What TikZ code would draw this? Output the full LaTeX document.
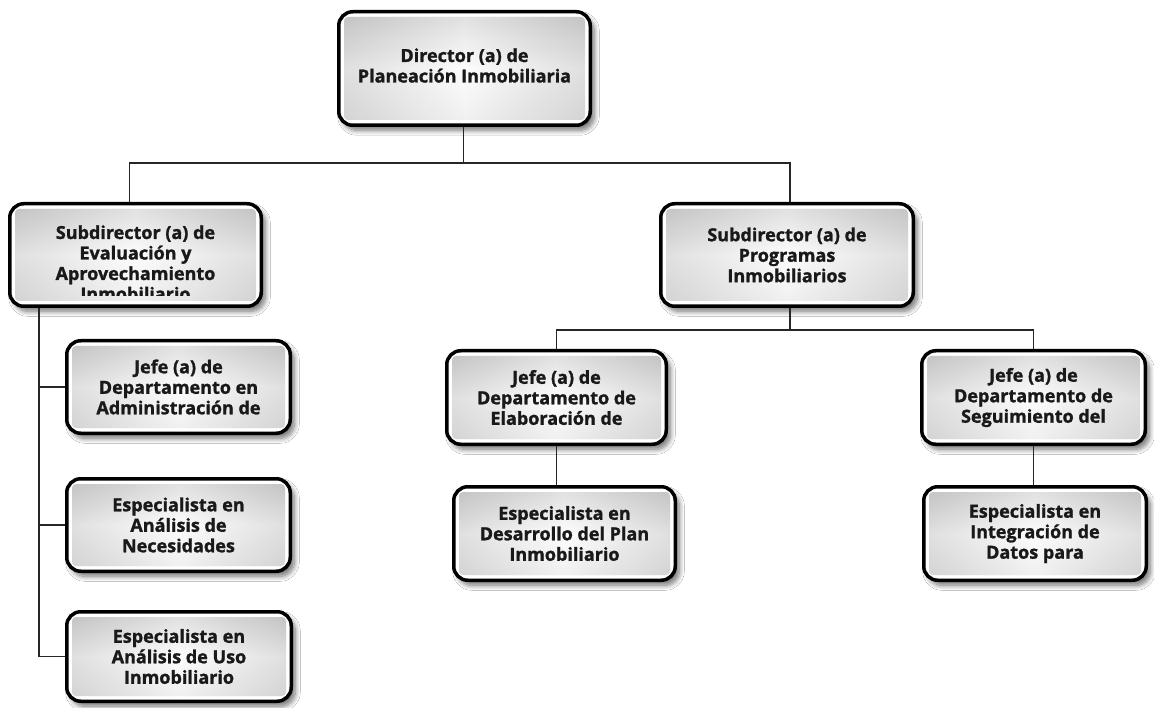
\documentclass[tikz,border=0pt]{standalone}
\usepackage{fontspec}
\setmainfont{Open Sans}[BoldFeatures={FakeBold=1.3}]
\usetikzlibrary{shadows.blur,calc}
\tikzset{
  x=1pt,y=-1pt,
  box/.style={draw=black, line width=3.5pt, rounded corners=14pt, fill=white,
    blur shadow={shadow xshift=4pt, shadow yshift=-5pt, shadow blur steps=8,
      shadow blur radius=5pt, shadow opacity=55}},
  vshade/.style={rounded corners=4pt, shading=axis, top color=gray!42, bottom color=gray!20, middle color=gray!3},
  hshade/.style={rounded corners=4pt, shading=axis, left color=gray!50, right color=gray!50, middle color=white, opacity=0.45},
  lbl/.style={font=\bfseries\fontsize{18}{20.5}\selectfont, align=center, text=black!90, inner sep=0pt},
  conn/.style={line width=1.6pt, draw=black!85},
}
% name, x1, y1, x2, y2, text, vertical text shift
\newcommand\orgbox[7]{%
  \node[box, minimum width={#4-#2-3.5}, minimum height={#5-#3-3.5}] (#1) at ({(#2+#4)/2},{(#3+#5)/2}) {};
  \shade[vshade] ($(#1.north west)+(7,7)$) rectangle ($(#1.south east)+(-7,-7)$);
  \shade[hshade] ($(#1.north west)+(7,7)$) rectangle ($(#1.south east)+(-7,-7)$);
  \begin{scope}
    \clip ($(#1.north west)+(7,10)$) rectangle ($(#1.south east)+(-7,-12)$);
    \node[lbl] (#1-t) at ($(#1.center)+(0,#7)$) {#6};
  \end{scope}
}
\begin{document}
\begin{tikzpicture}
\fill[white] (0,0) rectangle (1154,708);
\useasboundingbox (0,0) rectangle (1154,708);

\orgbox{dir}{337}{10}{592}{127}{Director (a) de\\Planeación Inmobiliaria}{-3}
\orgbox{subL}{8}{202}{263}{308}{Subdirector (a) de\\Evaluación y\\Aprovechamiento\\Inmobiliario}{8}
\orgbox{subR}{659}{202}{915}{308}{Subdirector (a) de\\Programas\\Inmobiliarios}{0}
\orgbox{jefeL}{65}{339}{292}{435}{Jefe (a) de\\Departamento en\\Administración de}{0}
\orgbox{espA}{65}{477}{292}{573}{Especialista en\\Análisis de\\Necesidades}{0}
\orgbox{espB}{65}{610}{293}{703}{Especialista en\\Análisis de Uso\\Inmobiliario}{0}
\orgbox{jefeM}{445}{349}{668}{446}{Jefe (a) de\\Departamento de\\Elaboración de}{0}
\orgbox{espM}{452}{485}{677}{582}{Especialista en\\Desarrollo del Plan\\Inmobiliario}{0}
\orgbox{jefeR}{920}{349}{1147}{446}{Jefe (a) de\\Departamento de\\Seguimiento del}{0}
\orgbox{espR}{922}{485}{1148}{582}{Especialista en\\Integración de\\Datos para}{0}

% connectors
\coordinate (bus0) at ($(dir.south)+(-1,36)$);
\draw[conn] (bus0 |- dir.south) -- (bus0);
\draw[conn] (bus0) -| ($(subL.north)+(-6,0)$);
\draw[conn] (bus0) -| ($(subR.north)+(3,0)$);

\coordinate (lv) at ($(subL.south west)+(31,0)$);
\draw[conn] (lv) |- (jefeL.west);
\draw[conn] (lv) |- (espA.west);
\draw[conn] (lv) |- (espB.west);

\coordinate (bus1) at ($(subR.south)+(3,22)$);
\draw[conn] (bus1 |- subR.south) -- (bus1);
\draw[conn] (bus1) -| (jefeM.north);
\draw[conn] (bus1) -| (jefeR.north);

\draw[conn] (jefeM.south) -- (jefeM.south |- espM.north);
\draw[conn] (jefeR.south) -- (jefeR.south |- espR.north);
\end{tikzpicture}
\end{document}
